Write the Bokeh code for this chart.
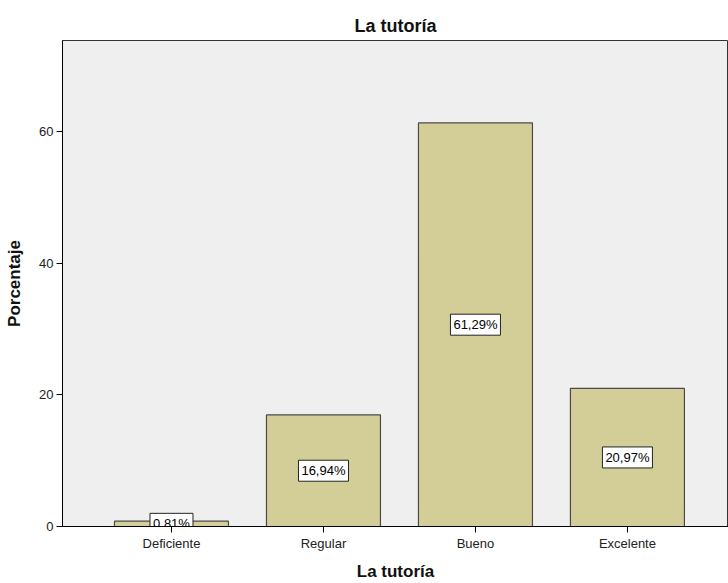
from bokeh.plotting import figure
from bokeh.models import ColumnDataSource, FixedTicker, Range1d
from bokeh.core.properties import value
from bokeh.embed import file_html
from bokeh.resources import INLINE

categories = ["Deficiente", "Regular", "Bueno", "Excelente"]
percentages = [0.81, 16.94, 61.29, 20.97]
label_texts = ["0,81%", "16,94%", "61,29%", "20,97%"]
y_ticks = [0, 20, 40, 60]

xs = list(range(1, len(categories) + 1))
src = ColumnDataSource(dict(
    x=xs,
    top=percentages,
    mid=[v / 2 for v in percentages],
    txt=label_texts,
    boxw=[7 * len(t) + 8 for t in label_texts],
))

p = figure(width=728, height=583, output_backend="svg", toolbar_location=None,
           x_range=Range1d(0.283, 4.665), y_range=Range1d(0, 73.8),
           title="La tutoría", min_border_left=62, min_border_right=0,
           min_border_top=40, min_border_bottom=54)

p.background_fill_color = "#EFEFEF"
p.border_fill_color = "white"
p.outline_line_color = "#333333"
p.outline_line_width = 1
p.grid.visible = False

p.title.align = "center"
p.title.text_font = "Liberation Sans"
p.title.text_font_size = "18px"
p.title.text_font_style = "bold"
p.title.text_color = "#111111"
p.title.offset = 0

p.vbar(x="x", top="top", width=0.75, source=src,
       fill_color="#D3CE97", line_color="#4A4A4A", line_width=1.2)

# value label boxes
p.rect(x="x", y="mid", width="boxw", height=21, width_units="screen",
       height_units="screen", source=src, fill_color="white",
       line_color="#222222", line_width=1)
p.text(x="x", y="mid", text="txt", source=src, text_align="center",
       text_baseline="middle", text_font=value("Liberation Sans"),
       text_font_size=value("13px"), text_color="black")

p.xaxis.ticker = FixedTicker(ticks=xs)
p.xaxis.major_label_overrides = {x: c for x, c in zip(xs, categories)}
p.xaxis.axis_label = "La tutoría"
p.yaxis.ticker = FixedTicker(ticks=y_ticks)
p.yaxis.axis_label = "Porcentaje"

for ax in (p.xaxis[0], p.yaxis[0]):
    ax.axis_line_color = "black"
    ax.major_tick_line_color = "black"
    ax.minor_tick_line_color = None
    ax.major_tick_in = 0
    ax.major_tick_out = 6
    ax.major_label_text_font = "Liberation Sans"
    ax.major_label_text_font_size = "13px"
    ax.major_label_text_color = "#222222"
    ax.axis_label_text_font = "Liberation Sans"
    ax.axis_label_text_font_size = "17px"
    ax.axis_label_text_font_style = "bold"
    ax.axis_label_text_color = "#111111"

p.xaxis.major_label_standoff = 3
p.xaxis.axis_label_standoff = 8
p.yaxis.major_label_standoff = 3
p.yaxis.axis_label_standoff = 12

open("out.html", "w").write(file_html(p, INLINE))
